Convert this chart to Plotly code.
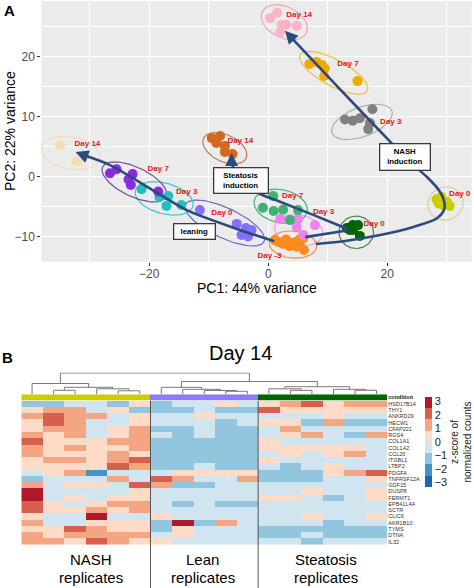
import numpy as np
import plotly.graph_objects as go

# ---------------- Panel A : PCA ----------------
nash_d14_pc1 = [0.3, 1.5, 2.25, 3.0, 4.8, 2.0]
nash_d14_pc2 = [26.4, 27.3, 25.3, 25.3, 25.1, 24.0]
nash_d7_pc1 = [6.9, 8.1, 9.0, 9.5, 9.4, 15.0]
nash_d7_pc2 = [18.75, 19.1, 18.6, 18.0, 16.75, 15.9]
nash_d3_pc1 = [12.9, 14.2, 15.4, 17.5, 17.1, 16.8]
nash_d3_pc2 = [9.5, 9.3, 9.7, 11.2, 8.9, 7.9]
nash_d0_pc1 = [28.3, 29.1, 29.4, 30.5, 30.0, 28.6]
nash_d0_pc2 = [-3.8, -3.4, -4.75, -4.9, -4.2, -4.5]
day_m3_pc1 = [1.1, 1.7, 3.0, 4.2, 5.2, 5.9, 3.6, 4.8, 6.0, 2.5, 5.3]
day_m3_pc2 = [-10.6, -10.9, -10.5, -11.0, -10.5, -10.3, -11.6, -11.7, -12.25, -11.25, -11.25]
steat_d0_pc1 = [13.2, 14.2, 15.1, 14.3, 15.4, 13.7]
steat_d0_pc2 = [-8.6, -8.1, -8.1, -8.9, -9.9, -8.9]
steat_d3_pc1 = [2.0, 3.65, 5.0, 4.8, 5.9, 7.85]
steat_d3_pc2 = [-7.1, -7.25, -7.1, -8.4, -9.75, -8.1]
steat_d7_pc1 = [0.84, -0.9, 0.9, 2.5, 5.0, 3.65]
steat_d7_pc2 = [-3.25, -5.2, -5.75, -5.55, -5.6, -7.25]
steat_d14_pc1 = [-9.5, -8.1, -8.7, -7.3, -7.3, -6.0]
steat_d14_pc2 = [6.4, 6.75, 5.6, 5.1, 4.1, 3.75]
lean_d0_pc1 = [-11.5, -5.3, -3.75, -2.8, -4.5, -3.4]
lean_d0_pc2 = [-5.6, -7.9, -8.6, -8.9, -9.75, -10.0]
lean_d3_pc1 = [-21.3, -18.3, -16.8, -17.1, -14.6]
lean_d3_pc2 = [-2.1, -3.4, -3.25, -4.9, -4.75]
lean_d7_pc1 = [-26.6, -25.5, -22.8, -23.1, -18.5, -23.5]
lean_d7_pc2 = [0.55, 1.2, 0.4, -1.4, -2.5, -0.5]
lean_d14_pc1 = [-35.0, -32.2, -30.8]
lean_d14_pc2 = [5.2, 2.5, 3.4]

group_pc1 = [nash_d14_pc1, nash_d7_pc1, nash_d3_pc1, nash_d0_pc1, day_m3_pc1,
             steat_d0_pc1, steat_d3_pc1, steat_d7_pc1, steat_d14_pc1,
             lean_d0_pc1, lean_d3_pc1, lean_d7_pc1, lean_d14_pc1]
group_pc2 = [nash_d14_pc2, nash_d7_pc2, nash_d3_pc2, nash_d0_pc2, day_m3_pc2,
             steat_d0_pc2, steat_d3_pc2, steat_d7_pc2, steat_d14_pc2,
             lean_d0_pc2, lean_d3_pc2, lean_d7_pc2, lean_d14_pc2]
group_colors = ['#ffb3c6', '#f2a900', '#808080', '#cccc00', '#ff8c1a',
                '#006400', '#ee82ee', '#3cb371', '#d2691e',
                '#8470ff', '#22bfbf', '#8a2be2', '#f3ddb0']
ellipse_colors = ['#eea3b6', '#f0bf30', '#b0b0b0', '#d6d29a', '#f09040',
                  '#4f7f4f', '#eaa0ea', '#45b070', '#c87850',
                  '#7466c8', '#40c6c6', '#7448a8', '#f0dcb4']
# ellipse centre / semi-axes / angle (confidence ellipses)
ell_cx = [2.7, 11.0, 15.75, 29.8, 4.15, 14.8, 5.1, 2.1, -7.3, -7.3, -17.5, -22.5, -33.2]
ell_cy = [25.7, 17.3, 9.1, -4.5, -11.35, -9.3, -8.95, -4.95, 4.7, -7.75, -3.65, -0.9, 3.9]
ell_a = [4.1, 6.4, 5.35, 3.0, 4.0, 2.9, 4.1, 4.55, 3.95, 7.3, 5.0, 5.9, 4.95]
ell_b = [2.6, 2.2, 2.45, 2.75, 2.25, 2.7, 2.55, 2.75, 2.25, 2.5, 2.55, 2.45, 2.7]
ell_ang = [-25, -28, 20, 20, -5, 0, -10, -12, -25, -25, -15, -25, -10]

day_labels = ['Day 14', 'Day 7', 'Day 3', 'Day 0', 'Day -3', 'Day 0', 'Day 3', 'Day 7',
              'Day 14', 'Day 0', 'Day 3', 'Day 7', 'Day 14']
label_pc1 = [5.2, 13.4, 20.6, 32.2, 0.2, 17.8, 9.3, 4.1, -4.7, -7.8, -13.7, -18.5, -30.4]
label_pc2 = [26.9, 18.75, 9.1, -2.9, -13.3, -7.9, -5.9, -3.25, 5.9, -6.0, -2.5, 1.2, 5.5]

# trajectory arrows
nash_path_pc1 = [8.0, 13.2, 18.8, 24.4, 28.3, 29.6, 29.4, 28.4, 26.8, 23.0, 20.2, 12.0, 4.2]
nash_path_pc2 = [-11.25, -10.7, -9.75, -8.4, -7.0, -5.4, -3.6, -1.9, -0.2, 3.2, 6.1, 14.6, 22.8]
nash_tip = (2.8, 24.3)
steat_seg_pc1 = [6.2, 13.2]
steat_seg_pc2 = [-10.1, -9.0]
steat_path_pc1 = [13.45, 7.56, 1.97, -1.85, -4.5, -6.0, -6.15]
steat_path_pc2 = [-8.8, -6.4, -4.2, -2.7, -0.6, 1.8, 2.6]
steat_tip = (-6.15, 3.9)
lean_path_pc1 = [1.0, -4.76, -13.7, -19.9, -26.6, -30.6]
lean_path_pc2 = [-10.8, -8.9, -5.6, -1.97, 1.9, 3.4]
lean_tip = (-32.4, 4.1)

box_texts = ['<b>NASH<br>induction</b>', '<b>Steatosis<br>induction</b>', '<b>leaning</b>']
box_pc1 = [23.0, -4.5, -12.4]
box_pc2 = [3.2, -0.6, -9.2]
box_w = [45, 49, 36]
box_h = [21, 20, 10]

# ---------------- Panel B : heatmap ----------------
genes = ['HSD17B14', 'THY1', 'ANKRD29', 'HECW1', 'CFAP221', 'RGS4', 'COL1A1', 'COL1A2',
         'CCL20', 'ITGBL1', 'LTBP2', 'PDGFA', 'TNFRSF12A', 'GDF15', 'DUSP8', 'FERMT1',
         'EPB41L4A', 'SCTR', 'CLIC6', 'AKR1B10', 'TYMS', 'DTNA', 'IL32']
nash_z = [
    [-1, -1, -0.4, -0.4, -1, 0.4],
    [0.4, 1, 1, -0.4, 0.4, -1],
    [1, 2, 1, 1, -0.4, 0.4],
    [0.4, 2, 1, -0.4, -0.4, 0.4],
    [0.4, 1, 1, -0.4, 0.4, 1],
    [1, 0.4, 1, -0.4, 0.4, 1],
    [2, 0.4, 0.4, 0.4, 1, 1],
    [1, 0.4, 1, 0.4, 0.4, 1],
    [1, 0.4, 0.4, 0.4, 1, 0.4],
    [0.4, 1, 1, 0.4, 1, 2],
    [0.4, 0.4, 0.4, 0.4, 2, 1],
    [-0.4, 0.4, 1, -2, -0.4, -0.4],
    [-1, -0.4, -0.4, -0.4, 1, -0.4],
    [1, -0.4, 0.4, 0.4, -0.4, 2],
    [3, -0.4, -0.4, -0.4, -0.4, 0.4],
    [3, -0.4, 0.4, -0.4, 0.4, 0.4],
    [2, 0.4, -0.4, 0.4, 1, 1],
    [2, 0.4, 0.4, 1, 0.4, 1],
    [0.4, -0.4, -0.4, 3, -0.4, -0.4],
    [1, -0.4, -0.4, 0.4, 0.4, 0.4],
    [0.4, 0.4, 2, 1, 0.4, 0.4],
    [1, 0.4, 1, 1, 1, 1],
    [1, 1, 0.4, 2, 1, 0.4],
]
lean_z = [
    [-1, -0.4, -0.4, 0.4, -0.4],
    [-1, -1, -0.4, -1, -1],
    [-0.4, -0.4, 0.4, -0.4, -0.4],
    [-0.4, -0.4, -0.4, -1, -0.4],
    [-1, -1, -0.4, -1, -1],
    [-0.4, -1, -0.4, -1, -1],
    [-1, -1, -1, -1, -1],
    [-1, -1, -1, -1, -1],
    [-1, -1, -1, -1, -1],
    [-1, -1, -1, -1, -1],
    [-1, -1, -0.4, -1, -1],
    [-0.4, 0.4, 0.4, 0.4, 0.4],
    [2, 1, -0.4, -0.4, 1],
    [1, -1, -1, -0.4, -0.4],
    [-0.4, -0.4, -0.4, -0.4, -0.4],
    [-0.4, -0.4, -0.4, -0.4, -0.4],
    [-0.4, -1, -0.4, -1, -1],
    [-0.4, -0.4, -0.4, -0.4, -0.4],
    [0.4, -0.4, -0.4, -0.4, -0.4],
    [-1, 3, -1, 1, -0.4],
    [-1, 0.4, -0.4, -0.4, -0.4],
    [-0.4, 0.4, -0.4, -0.4, -0.4],
    [0.4, -0.4, -0.4, -0.4, -0.4],
]
steat_z = [
    [0.4, 1, 2, 0.4, 1, 1],
    [2, 0.4, 0.4, 0.4, 0.4, 0.4],
    [-0.4, -0.4, -0.4, 0.4, -0.4, -0.4],
    [0.4, 0.4, -1, 1, -1, -1],
    [-0.4, 1, -0.4, -0.4, -0.4, -0.4],
    [-0.4, 0.4, 1, -0.4, -1, 1],
    [0.4, -0.4, -0.4, -0.4, -0.4, -0.4],
    [0.4, 0.4, 0.4, 0.4, 0.4, -0.4],
    [-0.4, 0.4, -0.4, 0.4, 1, -0.4],
    [0.4, -0.4, -0.4, -0.4, -0.4, -0.4],
    [-0.4, -1, -0.4, 0.4, -0.4, -0.4],
    [-1, -1, -1, 0.4, 1, 2],
    [-1, -1, -1, -0.4, -0.4, 0.4],
    [-0.4, -0.4, -0.4, -0.4, -0.4, -0.4],
    [-0.4, -0.4, 0.4, -0.4, -0.4, 0.4],
    [0.4, 0.4, -0.4, -1, -0.4, 0.4],
    [-0.4, -0.4, -0.4, -0.4, -0.4, -0.4],
    [-0.4, -0.4, -0.4, -0.4, -0.4, -0.4],
    [-0.4, -0.4, 0.4, -0.4, -0.4, 0.4],
    [-0.4, -0.4, -0.4, -1, -0.4, -0.4],
    [-1, -1, -1, -1, -1, -1],
    [-1, -1, -0.4, -1, -1, -1],
    [-0.4, -0.4, -1, -0.4, -0.4, -0.4],
]
condition_codes = [0] * 6 + [1] * 5 + [2] * 6
condition_colors = ['#cccc00', '#8a7cf4', '#006400']
heat_colors = ['#2166ac', '#4393c3', '#92c5de', '#d1e5f0',
               '#fddbc7', '#f4a582', '#d6604d', '#b2182b']
cbar_ticks = [3, 2, 1, 0, -1, -2, -3]
# dendrogram merges: (left id, right id, height); leaves 0..16, clusters 17..
dendro_merges = [
    (1, 2, 4.0), (4, 5, 3.5), (3, 18, 5.5), (17, 19, 7.0), (0, 20, 10.8),
    (9, 10, 3.0), (8, 22, 3.8), (7, 23, 5.0), (6, 24, 7.0),
    (12, 13, 4.0), (11, 26, 5.5), (15, 16, 4.0), (14, 28, 5.0), (27, 29, 7.6),
    (25, 30, 12.8), (21, 31, 21.3),
]
group_names = ['NASH', 'Lean', 'Steatosis']
group_label_x = [90.7, 202.6, 325.8]

# ---------------- figure ----------------
W, H = 474, 588
FONT = 'Liberation Sans, Arial, sans-serif'
NAVY = '#2c4a7e'
RED = '#e8151b'


def px_x(p):
    return p / W


def px_y(p):
    return 1 - p / H


def ellipse_xy(cx, cy, a, b, ang, n=120):
    t = np.linspace(0, 2 * np.pi, n)
    th = np.deg2rad(ang)
    x = cx + a * np.cos(t) * np.cos(th) - b * np.sin(t) * np.sin(th)
    y = cy + a * np.cos(t) * np.sin(th) + b * np.sin(t) * np.cos(th)
    return x, y


fig = go.Figure()

for i in range(len(group_pc1)):
    ex, ey = ellipse_xy(ell_cx[i], ell_cy[i], ell_a[i], ell_b[i], ell_ang[i])
    fig.add_trace(go.Scatter(x=ex, y=ey, mode='lines', xaxis='x', yaxis='y',
                             line=dict(color=ellipse_colors[i], width=1.2),
                             hoverinfo='skip'))
for i in range(len(group_pc1)):
    fig.add_trace(go.Scatter(x=group_pc1[i], y=group_pc2[i], mode='markers',
                             xaxis='x', yaxis='y',
                             marker=dict(color=group_colors[i], size=10, line=dict(width=0))))

for px_, py_ in [(nash_path_pc1, nash_path_pc2), (steat_seg_pc1, steat_seg_pc2),
                 (steat_path_pc1, steat_path_pc2), (lean_path_pc1, lean_path_pc2)]:
    fig.add_trace(go.Scatter(x=px_, y=py_, mode='lines', xaxis='x', yaxis='y',
                             line=dict(color=NAVY, width=2.6, shape='spline', smoothing=0.8),
                             hoverinfo='skip'))

fig.add_trace(go.Scatter(x=label_pc1, y=label_pc2, mode='text', xaxis='x', yaxis='y',
                         text=['<b>%s</b>' % t for t in day_labels],
                         textfont=dict(color=RED, size=8, family=FONT),
                         cliponaxis=False, hoverinfo='skip'))

# heatmap
z = [n + l + s for n, l, s in zip(nash_z, lean_z, steat_z)]
nb = len(heat_colors)
cs = []
for k, c in enumerate(heat_colors):
    cs.append([k / nb, c])
    cs.append([(k + 1) / nb, c])
fig.add_trace(go.Heatmap(z=z, x=list(range(17)), y=list(range(len(genes))),
                         xaxis='x2', yaxis='y2', zmin=-10 / 3, zmax=10 / 3, colorscale=cs,
                         colorbar=dict(x=px_x(425), xanchor='left', y=px_y(442), yanchor='middle',
                                       len=90, lenmode='pixels', thickness=7, xpad=0, ypad=0,
                                       outlinewidth=0, tickvals=cbar_ticks, ticks='',
                                       tickfont=dict(size=11, color='#222', family=FONT),
                                       title=dict(text='z-score of<br>normalized counts', side='right',
                                                  font=dict(size=10, color='#222', family=FONT)))))
ccs = []
for k, c in enumerate(condition_colors):
    ccs.append([k / 3, c])
    ccs.append([(k + 1) / 3, c])
fig.add_trace(go.Heatmap(z=[condition_codes], x=list(range(17)), y=[0], xaxis='x2', yaxis='y3',
                         zmin=-0.5, zmax=2.5, colorscale=ccs, showscale=False))

# dendrogram
node_x = {i: float(i) for i in range(17)}
node_h = {i: 0.0 for i in range(17)}
dx, dy = [], []
for k, (l, r, h) in enumerate(dendro_merges):
    nid = 17 + k
    dx += [node_x[l], node_x[l], node_x[r], node_x[r], None]
    dy += [node_h[l], h, h, node_h[r], None]
    node_x[nid] = (node_x[l] + node_x[r]) / 2
    node_h[nid] = h
fig.add_trace(go.Scatter(x=dx, y=dy, mode='lines', xaxis='x2', yaxis='y4',
                         line=dict(color='#7a7a7a', width=1), hoverinfo='skip', cliponaxis=False))

axis_font = dict(size=12, color='#4d4d4d', family=FONT)
fig.update_layout(
    width=W, height=H, margin=dict(l=0, r=0, t=0, b=0, autoexpand=False), showlegend=False,
    paper_bgcolor='white', plot_bgcolor='rgba(0,0,0,0)', font=dict(family=FONT),
    xaxis=dict(domain=[px_x(41.3), px_x(471.7)], range=[-38.15, 34.2], anchor='y',
               tickvals=[-20, 0, 20], showgrid=True, gridcolor='white', gridwidth=1.3,
               minor=dict(showgrid=True, gridcolor='white', gridwidth=0.6, tickvals=[-30, -10, 10, 30]),
               zeroline=False, showline=False, ticks='outside', ticklen=3, tickcolor='#333',
               tickwidth=1, tickfont=axis_font, automargin=False, ticklabelstandoff=-2),
    yaxis=dict(domain=[px_y(261.7), px_y(1)], range=[-14.2, 29.25], anchor='x',
               tickvals=[-10, 0, 10, 20], showgrid=True, gridcolor='white', gridwidth=1.3,
               minor=dict(showgrid=True, gridcolor='white', gridwidth=0.6, tickvals=[-5, 5, 15, 25]),
               zeroline=False, showline=False, ticks='outside', ticklen=3, tickcolor='#333',
               tickwidth=1, tickfont=axis_font, automargin=False),
    xaxis2=dict(domain=[px_x(21.3), px_x(387.3)], range=[-0.5, 16.5], anchor='y2', visible=False,
                automargin=False),
    yaxis2=dict(domain=[px_y(544.7), px_y(400.7)], range=[len(genes) - 0.5, -0.5], anchor='x2',
                side='right', tickvals=list(range(len(genes))), ticktext=genes, ticks='',
                showgrid=False, zeroline=False, automargin=False,
                tickfont=dict(size=5.5, color='#333', family=FONT)),
    yaxis3=dict(domain=[px_y(400.7), px_y(394.3)], range=[-0.5, 0.5], anchor='x2', side='right',
                tickvals=[0], ticktext=['<b>condition</b>'], ticks='', showgrid=False, zeroline=False,
                automargin=False, tickfont=dict(size=5.5, color='#111', family=FONT)),
    yaxis4=dict(domain=[px_y(394.3), px_y(372.5)], range=[0, 21.8], anchor='x2', visible=False,
                automargin=False),
)

shapes = [dict(type='rect', xref='x domain', yref='y domain', x0=0, x1=1, y0=0, y1=1,
               fillcolor='#ebebeb', line=dict(width=0), layer='below')]
for xb in [5.5, 10.5]:
    shapes.append(dict(type='line', xref='x2', yref='paper', x0=xb, x1=xb, y0=0, y1=px_y(400.7),
                       line=dict(color='#555', width=1)))
fig.update_layout(shapes=shapes)

ann = []
for tip, path in [(nash_tip, (nash_path_pc1, nash_path_pc2)),
                  (steat_tip, (steat_path_pc1, steat_path_pc2)),
                  (lean_tip, (lean_path_pc1, lean_path_pc2))]:
    ann.append(dict(x=tip[0], y=tip[1], ax=path[0][-1], ay=path[1][-1], xref='x', yref='y',
                    axref='x', ayref='y', text='', showarrow=True, arrowhead=2, arrowsize=1,
                    arrowwidth=2.6, arrowcolor=NAVY, standoff=0))
for t, bx, by, bw, bh in zip(box_texts, box_pc1, box_pc2, box_w, box_h):
    ann.append(dict(x=bx, y=by, xref='x', yref='y', text=t, showarrow=False, width=bw, height=bh,
                    xanchor='center', yanchor='middle',
                    bgcolor='white', bordercolor='#3a3a3a', borderwidth=1.3, borderpad=2,
                    font=dict(size=7.8, color='black', family=FONT), align='center', valign='middle'))


def paper_text(x, y, text, size, angle=0):
    return dict(x=px_x(x), y=px_y(y), xref='paper', yref='paper', text=text, showarrow=False,
                xanchor='center', yanchor='middle', textangle=angle,
                font=dict(size=size, color='black', family=FONT))


ann += [
    paper_text(9, 10, '<b>A</b>', 15),
    paper_text(8, 357, '<b>B</b>', 15),
    paper_text(256.5, 288, 'PC1: 44% variance', 14),
    paper_text(10, 131, 'PC2: 22% variance', 14, -90),
    paper_text(240, 353, 'Day 14', 20),
]
for name, gx in zip(group_names, group_label_x):
    ann.append(paper_text(gx, 559, name, 15))
    ann.append(paper_text(gx, 577, 'replicates', 15))
fig.update_layout(annotations=ann)

fig.write_html('out.html', config={'displayModeBar': False},
               post_script="document.body.style.margin='0px';")
